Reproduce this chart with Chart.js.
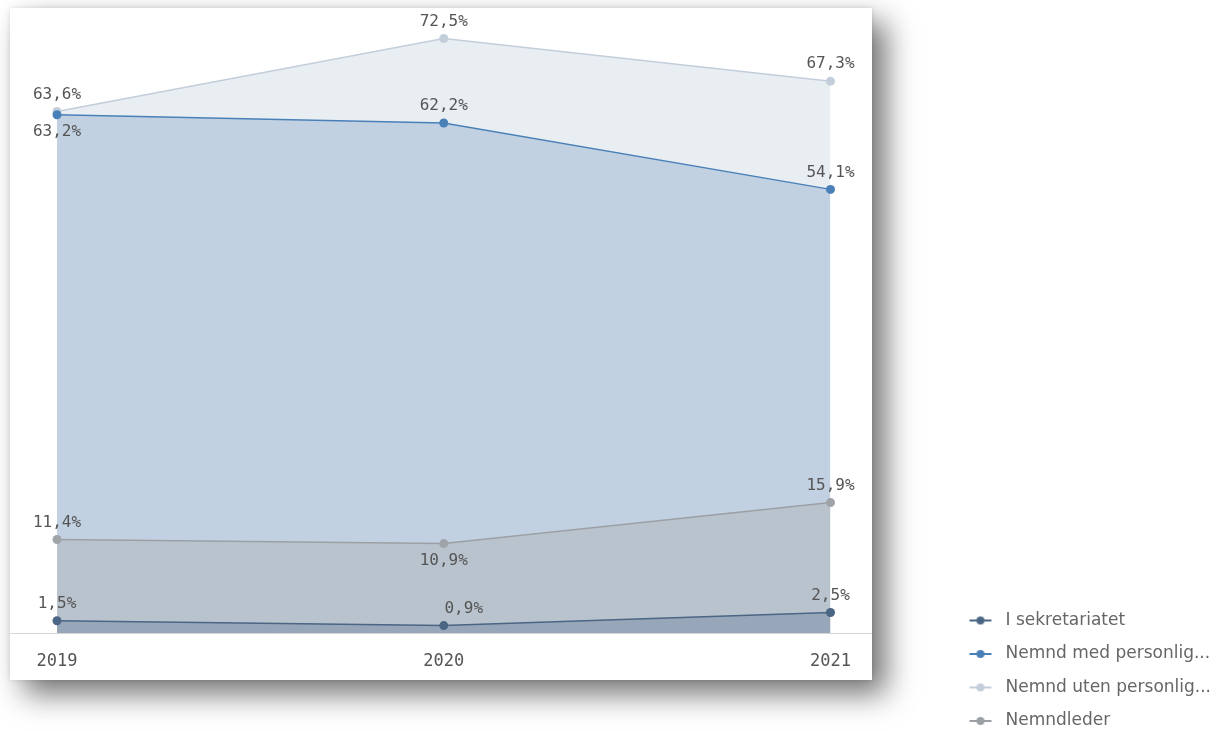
<!DOCTYPE html>
<html>
<head>
<meta charset="utf-8">
<script src="https://cdn.jsdelivr.net/npm/chart.js@4/dist/chart.umd.min.js"></script>
<style>
  html, body { margin: 0; padding: 0; background: #fff; overflow: hidden; width: 1228px; height: 731px; }
  #card {
    position: absolute; left: 10px; top: 8px; width: 862px; height: 672px;
    background: #fff;
    box-shadow: 14px 14px 28px rgba(0,0,0,0.55), 0 0 5px rgba(0,0,0,0.12);
  }
  #chart { position: absolute; left: 0; top: 0; }
</style>
</head>
<body>
<div id="card"></div>
<canvas id="chart" width="1228" height="746"></canvas>
<script>
// data
var years = ['2019', '2020', '2021'];
var sekretariat = [1.5, 0.9, 2.5];
var medPersonlig = [63.2, 62.2, 54.1];
var utenPersonlig = [63.6, 72.5, 67.3];
var nemndleder = [11.4, 10.9, 15.9];

// card edges (same as the #card div)
var cardLeft = 10, cardRight = 872;

// little line-with-dot marker for the legend
function makeMarker(color) {
    var c = document.createElement('canvas');
    c.width = 24; c.height = 10;
    var g = c.getContext('2d');
    g.strokeStyle = color; g.lineWidth = 2;
    g.beginPath(); g.moveTo(1, 5); g.lineTo(23, 5); g.stroke();
    g.fillStyle = color;
    g.beginPath(); g.arc(12, 5, 4, 0, Math.PI * 2); g.fill();
    return c;
}

function fmt(v) {
    return v.toFixed(1).replace('.', ',') + '%';
}

// value labels above / below each point
var valueLabels = {
    id: 'valueLabels',
    afterDatasetsDraw: function(chart) {
        var ctx = chart.ctx;
        ctx.save();
        ctx.font = '16px "DejaVu Sans Mono"';
        ctx.fillStyle = '#555';
        ctx.textAlign = 'center';
        ctx.textBaseline = 'middle';
        chart.data.datasets.forEach(function(ds, i) {
            var meta = chart.getDatasetMeta(i);
            meta.data.forEach(function(pt, j) {
                var pos = ds.labelPos ? ds.labelPos[j] : 'above';
                var dx = pos === 'aboveRight' ? 20 : 0;
                var dy = pos === 'below' ? 17 : -17;
                ctx.fillText(fmt(ds.data[j]), pt.x + dx, pt.y + dy);
            });
        });
        ctx.restore();
    }
};

// baseline across the whole card
var baseLine = {
    id: 'baseLine',
    beforeDatasetsDraw: function(chart) {
        var y = Math.round(chart.scales.y.getPixelForValue(0)) + 0.5;
        var ctx = chart.ctx;
        ctx.save();
        ctx.strokeStyle = '#d6d6d6';
        ctx.lineWidth = 1;
        ctx.beginPath();
        ctx.moveTo(cardLeft, y);
        ctx.lineTo(cardRight, y);
        ctx.stroke();
        ctx.restore();
    }
};

var ctx = document.getElementById('chart').getContext('2d');

var chart = new Chart(ctx, {
    type: 'line',
    data: {
        labels: years,
        datasets: [{
            label: 'I sekretariatet',
            data: sekretariat,
            borderColor: '#4b6584',
            backgroundColor: '#97a7b9',
            pointBackgroundColor: '#4b6584',
            labelPos: ['above', 'aboveRight', 'above'],
            order: 0
        }, {
            label: 'Nemnd med personlig...',
            data: medPersonlig,
            borderColor: '#4a80b8',
            backgroundColor: '#c1d1e2',
            pointBackgroundColor: '#4a80b8',
            labelPos: ['below', 'above', 'above'],
            order: 2
        }, {
            label: 'Nemnd uten personlig...',
            data: utenPersonlig,
            borderColor: '#c3cedb',
            backgroundColor: '#e9eef3',
            pointBackgroundColor: '#c3cedb',
            labelPos: ['above', 'above', 'above'],
            order: 3
        }, {
            label: 'Nemndleder',
            data: nemndleder,
            borderColor: '#9ca0a5',
            backgroundColor: '#b9c3cd',
            pointBackgroundColor: '#a0a4a9',
            labelPos: ['above', 'below', 'above'],
            order: 1
        }]
    },
    options: {
        responsive: false,
        animation: false,
        devicePixelRatio: 1,
        layout: { padding: { left: 57, top: 18, right: 7, bottom: 0 } },
        elements: {
            line: { fill: 'origin', borderWidth: 1.5, tension: 0 },
            point: { radius: 4.5, borderWidth: 0, hoverRadius: 5 }
        },
        scales: {
            x: {
                offset: false,
                grid: { display: false, drawTicks: false },
                border: { display: false },
                ticks: {
                    color: '#555',
                    font: { family: 'DejaVu Sans Mono', size: 17 },
                    padding: 18,
                    maxRotation: 0,
                    autoSkip: false
                },
                afterFit: function(scale) { scale.height = 113; }
            },
            y: {
                position: 'right',
                min: 0,
                max: 75,
                grid: { display: false },
                border: { display: false },
                ticks: { display: false },
                afterFit: function(scale) { scale.width = 117; }
            }
        },
        plugins: {
            tooltip: { enabled: false },
            legend: {
                position: 'right',
                align: 'end',
                labels: {
                    usePointStyle: true,
                    pointStyleWidth: 33,
                    boxWidth: 33,
                    boxHeight: 17,
                    padding: 16.5,
                    color: '#666',
                    font: { family: 'DejaVu Sans', size: 17 },
                    generateLabels: function(chart) {
                        return chart.data.datasets.map(function(ds, i) {
                            return {
                                text: ds.label,
                                pointStyle: makeMarker(ds.borderColor),
                                fillStyle: ds.borderColor,
                                strokeStyle: ds.borderColor,
                                lineWidth: 0,
                                fontColor: '#666',
                                hidden: !chart.isDatasetVisible(i),
                                datasetIndex: i
                            };
                        });
                    }
                }
            }
        }
    },
    plugins: [baseLine, valueLabels]
});
</script>
</body>
</html>
